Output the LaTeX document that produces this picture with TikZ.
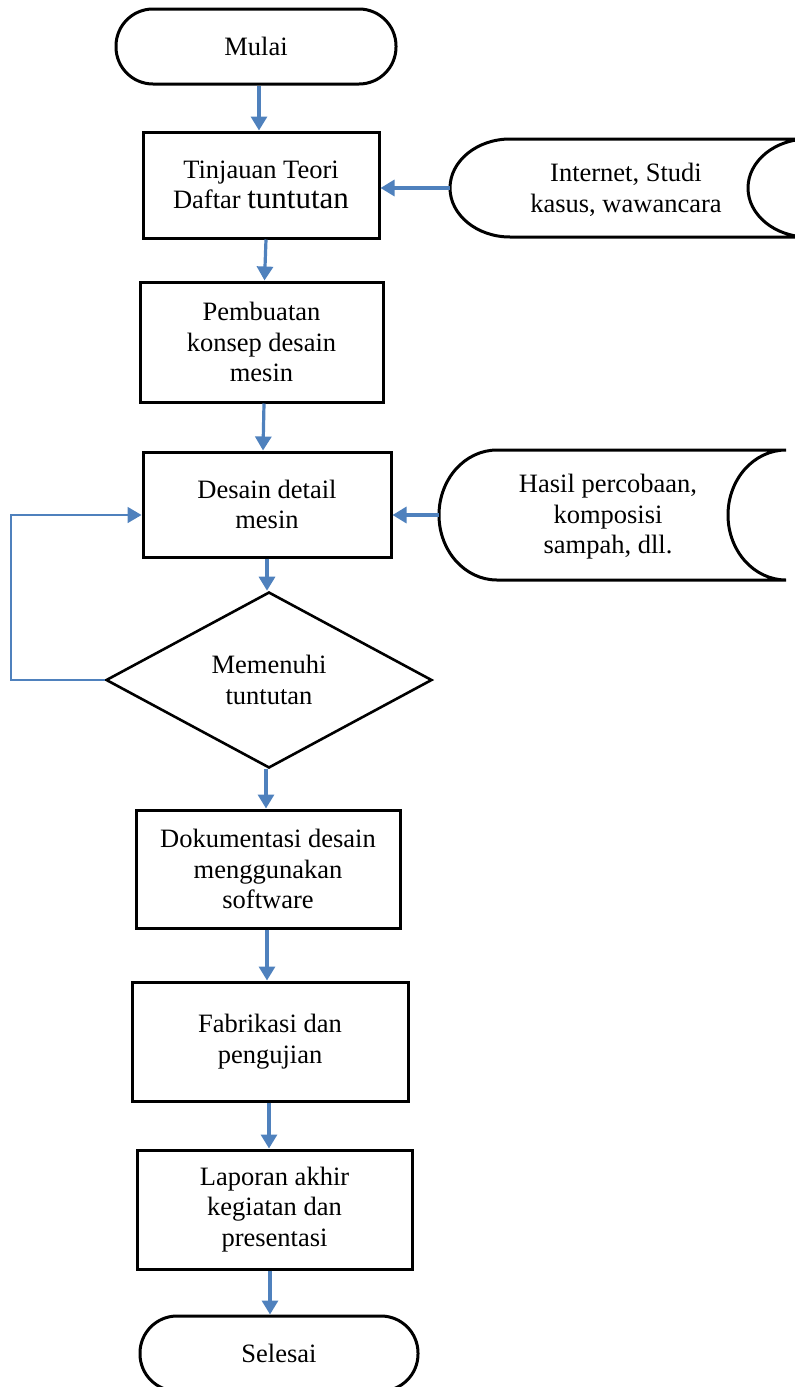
\documentclass[tikz,border=0pt]{standalone}
\usepackage{fontspec}
\setmainfont{Liberation Serif}
\usetikzlibrary{arrows.meta,shapes.geometric}
\definecolor{flowblue}{HTML}{4F81BD}
\tikzset{
  txt/.style={font=\fontsize{26.5}{30.5}\selectfont, align=center},
  procbox/.style={txt, draw=black, line width=3pt, inner sep=0pt},
  termbox/.style={txt, draw=black, line width=3pt, inner sep=0pt, rounded corners=37pt},
  decbox/.style={txt, draw=black, line width=2.6pt, diamond, inner sep=0pt},
  sdshape/.style={draw=black, line width=3pt},
  arr/.style={draw=flowblue, line width=3.2pt, -{Triangle[length=14pt,width=16pt]}},
  thinarr/.style={draw=flowblue, line width=1.8pt, -{Triangle[length=14pt,width=16pt]}},
}
\begin{document}
\begin{tikzpicture}[x=1pt,y=-1pt]
\useasboundingbox (0,0) rectangle (795,1387);

% nodes
\node[termbox, minimum width=280pt, minimum height=75pt] (start) at (256,46.5) {Mulai};
\node[procbox, minimum width=236pt, minimum height=106pt] (b1) at (261,185)
  {Tinjauan Teori\\Daftar {\fontsize{31}{30.5}\selectfont tuntutan}};
\node[procbox, minimum width=243pt, minimum height=120pt] (b2) at (261.5,342)
  {Pembuatan\\konsep desain\\mesin};
\node[procbox, minimum width=248pt, minimum height=105pt] (b3) at (267,504.5)
  {Desain detail\\mesin};
\node[decbox, minimum width=326pt, minimum height=176pt] (dia) at (269,680)
  {Memenuhi\\tuntutan};
\node[procbox, minimum width=264pt, minimum height=118pt] (b4) at (268,869)
  {Dokumentasi desain\\menggunakan\\software};
\node[procbox, minimum width=276pt, minimum height=119pt] (b5) at (270,1041.5)
  {Fabrikasi dan\\pengujian};
\node[procbox, minimum width=275pt, minimum height=119pt] (b6) at (274.5,1209.5)
  {Laporan akhir\\kegiatan dan\\presentasi};
\node[termbox, minimum width=278pt, minimum height=75pt] (end) at (279,1353.5) {Selesai};

% stored data 1
\draw[sdshape] (510,139) -- (808,139)
  .. controls (775,139) and (748,161) .. (748,188)
  .. controls (748,215) and (775,237) .. (808,237)
  -- (510,237)
  .. controls (477,237) and (450,215) .. (450,188)
  .. controls (450,161) and (477,139) .. (510,139) -- cycle;
\coordinate (sd1w) at (450,188);
\node[txt] (sd1) at (626,190) {Internet, Studi\\kasus, wawancara};

% stored data 2
\draw[sdshape] (497,450) -- (786,450)
  .. controls (754,450) and (728,479) .. (728,515)
  .. controls (728,551) and (754,580) .. (786,580)
  -- (497,580)
  .. controls (465,580) and (439,551) .. (439,515)
  .. controls (439,479) and (465,450) .. (497,450) -- cycle;
\coordinate (sd2w) at (439,515);
\node[txt] (sd2) at (608,517) {Hasil percobaan,\\komposisi\\sampah, dll.};

% connectors
\draw[arr] ([xshift=3pt]start.south) -- ([xshift=-2pt]b1.north);
\draw[arr] ([xshift=5pt]b1.south) -- ([xshift=3pt]b2.north);
\draw[arr] ([xshift=2.5pt]b2.south) -- ([xshift=-4pt]b3.north);
\draw[arr] (sd1w) -- (b1.east |- sd1w);
\draw[arr] (sd2w) -- (b3.east |- sd2w);
\draw[arr] (b3.south) -- ([xshift=-2pt]dia.north);
\coordinate (fbc) at (11,515);
\draw[thinarr] (dia.west) -- (fbc |- dia.west) -- (fbc) -- (b3.west |- fbc);
\draw[arr] ([xshift=-3pt]dia.south) -- ([xshift=-2pt]b4.north);
\draw[arr] ([xshift=-1pt]b4.south) -- ([xshift=-3pt]b5.north);
\draw[arr] ([xshift=-1pt]b5.south) -- ([xshift=-5.5pt]b6.north);
\draw[arr] ([xshift=-4.5pt]b6.south) -- ([xshift=-9pt]end.north);
\end{tikzpicture}
\end{document}
